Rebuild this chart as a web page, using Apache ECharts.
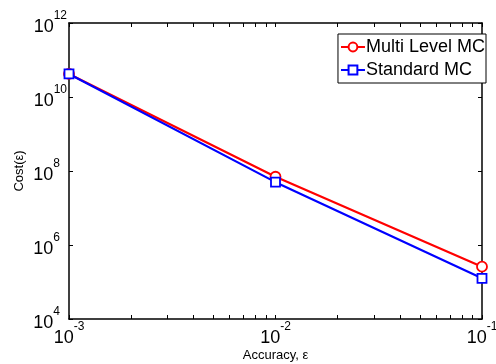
<!DOCTYPE html>
<html>
<head>
<meta charset="utf-8">
<script src="https://cdn.jsdelivr.net/npm/echarts@6/dist/echarts.min.js"></script>
<style>
html, body { margin: 0; padding: 0; background: #fff; }
#chart { width: 496px; height: 364px; }
</style>
</head>
<body>
<div id="chart"></div>
<script>
// accuracy values and cost
var accuracy = [0.001, 0.01, 0.1];
var costMLMC = [4.2e10, 7.0e7, 2.6e5];
var costStdMC = [4.2e10, 5.0e7, 1.26e5];
var xTickVals = [0.001, 0.002, 0.003, 0.004, 0.005, 0.006, 0.007, 0.008, 0.009,
                 0.01, 0.02, 0.03, 0.04, 0.05, 0.06, 0.07, 0.08, 0.09, 0.1];
var xLabelVals = [0.001, 0.01, 0.1];
var yLabelVals = [1e4, 1e6, 1e8, 1e10, 1e12];

var FONT = 'Liberation Sans, Arial, sans-serif';

function pairs(xs, ys) {
    var out = [];
    for (var i = 0; i < xs.length; i++) {
        out.push([xs[i], ys[i]]);
    }
    return out;
}

// 10^n label
function powLabel(v) {
    var e = Math.round(Math.log10(v));
    return '{b|10}{s|' + e + '}';
}
// y labels: keep the "10" aligned, like matlab does
function powLabelY(v) {
    var e = Math.round(Math.log10(v));
    if (String(e).length < 2) {
        return '{b|10}{s1|' + e + '}';
    }
    return '{b|10}{s|' + e + '}';
}
var powRich = {
    b: { fontSize: 18, fontFamily: FONT, color: '#000', verticalAlign: 'bottom', lineHeight: 26 },
    s: { fontSize: 12, fontFamily: FONT, color: '#000', verticalAlign: 'top', lineHeight: 26 },
    s1: { fontSize: 12, fontFamily: FONT, color: '#000', verticalAlign: 'top', lineHeight: 26, padding: [0, 7, 0, 0] }
};

var chart = echarts.init(document.getElementById('chart'), null, {renderer: 'canvas'});
var option = {
    animation: false,
    backgroundColor: '#fff',
    grid: {
        left: 69,
        right: 14,
        top: 23,
        bottom: 45,
        containLabel: false,
        outerBoundsMode: 'none'
    },
    legend: {
        right: 10,
        top: 34,
        orient: 'vertical',
        backgroundColor: '#fff',
        borderColor: '#000',
        borderWidth: 1,
        padding: [4, 1, 4, 2],
        itemGap: 5,
        itemWidth: 24,
        itemHeight: 11,
        textStyle: { fontSize: 18, lineHeight: 18, fontFamily: FONT, color: '#000', padding: [0, 0, 0, -4] },
        data: ['Multi Level MC', 'Standard MC']
    },
    xAxis: [{
        type: 'log',
        logBase: 10,
        min: 0.001,
        max: 0.1,
        name: 'Accuracy, ε',
        nameLocation: 'middle',
        nameGap: 30,
        nameMoveOverlap: false,
        nameTextStyle: { fontSize: 13, fontFamily: FONT, color: '#000' },
        axisLine: { lineStyle: { color: '#000', width: 1.5 } },
        axisTick: { inside: true, length: 4, customValues: xTickVals, lineStyle: { color: '#000' } },
        axisLabel: {
            customValues: xLabelVals,
            margin: 2,
            formatter: powLabel,
            rich: powRich
        },
        splitLine: { show: false }
    }, {
        type: 'log',
        logBase: 10,
        min: 0.001,
        max: 0.1,
        position: 'top',
        axisLine: { lineStyle: { color: '#000', width: 1.5 } },
        axisTick: { inside: true, length: 4, customValues: xTickVals, lineStyle: { color: '#000' } },
        axisLabel: { show: false },
        splitLine: { show: false }
    }],
    yAxis: [{
        type: 'log',
        logBase: 10,
        min: 1e4,
        max: 1e12,
        name: 'Cost(ε)',
        nameLocation: 'middle',
        nameGap: 43,
        nameMoveOverlap: false,
        nameTextStyle: { fontSize: 13, fontFamily: FONT, color: '#000' },
        axisLine: { show: true, lineStyle: { color: '#000', width: 1.5 } },
        axisTick: { show: true, inside: true, length: 4, customValues: yLabelVals, lineStyle: { color: '#000' } },
        axisLabel: {
            customValues: yLabelVals,
            margin: 2,
            formatter: powLabelY,
            rich: powRich
        },
        splitLine: { show: false }
    }, {
        type: 'log',
        logBase: 10,
        min: 1e4,
        max: 1e12,
        position: 'right',
        axisLine: { show: true, lineStyle: { color: '#000', width: 1.5 } },
        axisTick: { show: true, inside: true, length: 4, customValues: yLabelVals, lineStyle: { color: '#000' } },
        axisLabel: { show: false },
        splitLine: { show: false }
    }],
    series: [
        {
            name: 'Multi Level MC',
            type: 'line',
            data: pairs(accuracy, costMLMC),
            clip: false,
            symbol: 'circle',
            symbolSize: 10,
            itemStyle: { color: '#fff', borderColor: '#ff0000', borderWidth: 1.8 },
            lineStyle: { color: '#ff0000', width: 2.2 },
            z: 2
        },
        {
            name: 'Standard MC',
            type: 'line',
            data: pairs(accuracy, costStdMC),
            clip: false,
            symbol: 'rect',
            symbolSize: 9,
            itemStyle: { color: '#fff', borderColor: '#0000ff', borderWidth: 1.8 },
            lineStyle: { color: '#0000ff', width: 2.2 },
            z: 3
        }
    ]
};
chart.setOption(option);
</script>
</body>
</html>
